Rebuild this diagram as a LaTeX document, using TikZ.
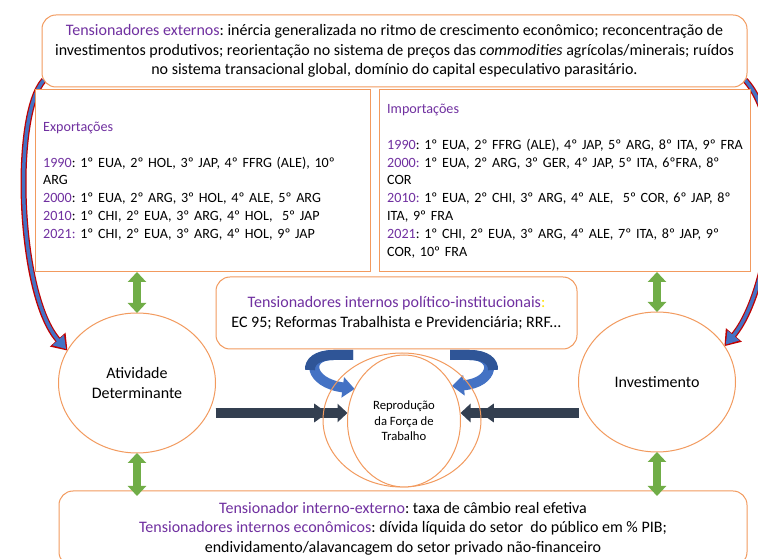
\documentclass[tikz,border=0pt]{standalone}
\usepackage{fontspec}
\setmainfont{Carlito}
\usetikzlibrary{arrows.meta,shapes.geometric,calc}
\pgfdeclarelayer{bg}
\pgfsetlayers{bg,main}
\definecolor{borda}{HTML}{F29A5E}
\definecolor{roxo}{HTML}{7030A0}
\definecolor{verde}{HTML}{70AD47}
\definecolor{escuro}{HTML}{333F50}
\definecolor{azul}{HTML}{4472C4}
\definecolor{azulesc}{HTML}{2F5597}
\definecolor{vermelho}{HTML}{C00000}
\definecolor{amarelo}{HTML}{FFE000}
\newcommand\fsA{\frenchspacing\fontsize{12}{14.6}\selectfont}
\newcommand\fsB{\frenchspacing\fontsize{10.6}{13.35}\selectfont}
\newcommand\fsC{\frenchspacing\fontsize{9.5}{11.6}\selectfont}
\begin{document}
\frenchspacing
\begin{tikzpicture}[x=0.75pt,y=-0.75pt,
  rbox/.style={draw=borda, line width=0.75pt, fill=white, rounded corners=10.5pt, inner sep=0pt, outer sep=0pt},
  sbox/.style={draw=borda, line width=0.75pt, fill=white, inner sep=0pt, outer sep=0pt},
  oval/.style={ellipse, draw=borda, line width=0.75pt, fill=white, inner sep=0pt, outer sep=0pt},
  garrow/.style={draw=verde, line width=6pt, {Triangle[length=7.5pt,width=13.5pt]}-{Triangle[length=7.5pt,width=13.5pt]}},
  darkline/.style={draw=escuro, line width=7.5pt},
  redline/.style={draw=vermelho, line width=4.5pt, -{Triangle[length=11pt,width=15pt]}},
  blueline/.style={draw=azul, line width=2.6pt, shorten >=1.5pt, -{Triangle[length=9pt,width=11pt]}},
  uturn/.style={draw=azul, line width=7.5pt, -{Triangle[length=9pt,width=15pt]}},
  uturnback/.style={draw=azulesc, line width=7.5pt}
]
\useasboundingbox (0,0) rectangle (758,559);

% boxes
\node[rbox, font=\fsA, align=center, minimum width=528.75pt, minimum height=54pt] (top) at (394.5,51)
  {\textcolor{roxo}{Tensionadores externos}: inércia generalizada no ritmo de crescimento econômico; reconcentração de\\
   investimentos produtivos; reorientação no sistema de preços das \textit{commodities} agrícolas/minerais; ruídos\\
   no sistema transacional global, domínio do capital especulativo parasitário.};

\node[sbox, font=\fsB, text width=239pt, align=left, minimum width=251.25pt, minimum height=136.5pt] (expo) at (202.5,181)
  {\textcolor{roxo}{Exportações}\\[13.35pt]
   \makebox[239pt][s]{\textcolor{roxo}{1990}: 1º EUA, 2º HOL, 3º JAP, 4º FFRG (ALE), 10º}\\
   ARG\\
   \mbox{\textcolor{roxo}{2000}: 1º EUA, 2º ARG, 3º HOL, 4º ALE, 5º ARG}\\
   \mbox{\textcolor{roxo}{2010}: 1º CHI, 2º EUA, 3º ARG, 4º HOL,~ 5º JAP}\\
   \mbox{\textcolor{roxo}{2021:} 1º CHI, 2º EUA, 3º ARG, 4º HOL, 9º JAP}};

\node[sbox, font=\fsB, text width=266pt, align=left, minimum width=278.25pt, minimum height=136.5pt] (impo) at (564.5,181)
  {\textcolor{roxo}{Importações}\\[13.35pt]
   \mbox{\textcolor{roxo}{1990}: 1º EUA, 2º FFRG (ALE), 4º JAP, 5º ARG, 8º ITA, 9º FRA}\\
   \makebox[266pt][s]{\textcolor{roxo}{2000:} 1º EUA, 2º ARG, 3º GER, 4º JAP, 5º ITA, 6ºFRA, 8º}\\
   COR\\
   \makebox[266pt][s]{\textcolor{roxo}{2010:} 1º EUA, 2º CHI, 3º ARG, 4º ALE,~ 5º COR, 6º JAP, 8º}\\
   ITA, 9º FRA\\
   \makebox[266pt][s]{\textcolor{roxo}{2021}: 1º CHI, 2º EUA, 3º ARG, 4º ALE, 7º ITA, 8º JAP, 9º}\\
   COR, 10º FRA};

\node[rbox, font=\fsA, align=center, minimum width=270.75pt, minimum height=54pt] (mid) at (396.5,313)
  {\textcolor{roxo}{Tensionadores internos político-institucionais}\textcolor{amarelo}{:}\\
   EC 95; Reformas Trabalhista e Previdenciária; RRF...};

\node[rbox, font=\fsA, align=center, minimum width=516pt, minimum height=56.25pt] (bot) at (403,528.5)
  {\textcolor{roxo}{Tensionador interno-externo}: taxa de câmbio real efetiva\\
   \textcolor{roxo}{Tensionadores internos econômicos}: dívida líquida do setor~ do público em \% PIB;\\
   endividamento/alavancagem do setor privado não-financeiro};

% ellipses
\node[oval, font=\fsA, align=center, minimum width=117.75pt, minimum height=105pt] (atv) at (137,383) {Atividade\\Determinante};
\node[oval, font=\fsA, align=center, minimum width=117.75pt, minimum height=105pt] (inv) at (657,382) {Investimento};
\node[ellipse, draw=borda, line width=0.75pt, inner sep=0pt, outer sep=0pt, minimum width=118.5pt, minimum height=100.5pt] (rout) at (402,420) {};
\node[oval, font=\fsC, align=center, minimum width=84.75pt, minimum height=99pt] (rin) at (404,421) {Reprodução\\da Força de\\Trabalho};

\begin{pgfonlayer}{bg}
  \fill[white] (0,0) rectangle (758,559);
  % external tension arrows
  \draw[redline] ($(top.south west)+(2,-7)$) .. controls (12,115) and (18,295) .. (atv.155);
  \draw[blueline] ($(top.south west)+(2,-7)$) .. controls (12,115) and (18,295) .. (atv.155);
  \draw[redline] ($(top.south east)+(-2,-7)$) .. controls (792,130) and (772,290) .. (inv.28);
  \draw[blueline] ($(top.south east)+(-2,-7)$) .. controls (792,130) and (772,290) .. (inv.28);
  % dark arrows
  \draw[darkline, -{Triangle[length=7.5pt,width=13.5pt]}] ([yshift=-22.5pt]atv.east) -- ([yshift=6pt]rin.west);
  \draw[darkline, shorten >=15pt, -{Triangle[length=10pt,width=13.5pt]}] ([yshift=-22.5pt]atv.east) -- ([yshift=6pt]rin.west);
  \draw[darkline, -{Triangle[length=7.5pt,width=13.5pt]}] ([yshift=-23.25pt]inv.west) -- ([yshift=6pt]rin.east);
  \draw[darkline, shorten >=15pt, -{Triangle[length=10pt,width=13.5pt]}] ([yshift=-23.25pt]inv.west) -- ([yshift=6pt]rin.east);
  % u-turn arrows
  \draw[uturn] ($(mid.south)+(-43.5,6)$) -- ($(mid.south)+(-63,6)$) .. controls ($(mid.south)+(-92,6)$) and ($(mid.south)+(-88,34)$) .. (rin.147);
  \draw[uturnback] ($(mid.south)+(-43.5,6)$) -- ($(mid.south)+(-63,6)$) .. controls ($(mid.south)+(-80,6)$) and ($(mid.south)+(-87,13)$) .. ($(mid.south)+(-86.5,21)$);
  \draw[uturn] ($(mid.south)+(53.5,6)$) -- ($(mid.south)+(73,6)$) .. controls ($(mid.south)+(102,6)$) and ($(mid.south)+(98,34)$) .. (rin.36);
  \draw[uturnback] ($(mid.south)+(53.5,6)$) -- ($(mid.south)+(73,6)$) .. controls ($(mid.south)+(90,6)$) and ($(mid.south)+(97,13)$) .. ($(mid.south)+(96.5,21)$);
\end{pgfonlayer}

% green double arrows
\draw[garrow] (atv.north |- expo.south) -- (atv.north);
\draw[garrow] (atv.south) -- ($(atv.south |- bot.north)+(0,5)$);
\draw[garrow] (inv.north |- impo.south) -- (inv.north);
\draw[garrow] (inv.south) -- ($(inv.south |- bot.north)+(0,5)$);
\end{tikzpicture}
\end{document}
